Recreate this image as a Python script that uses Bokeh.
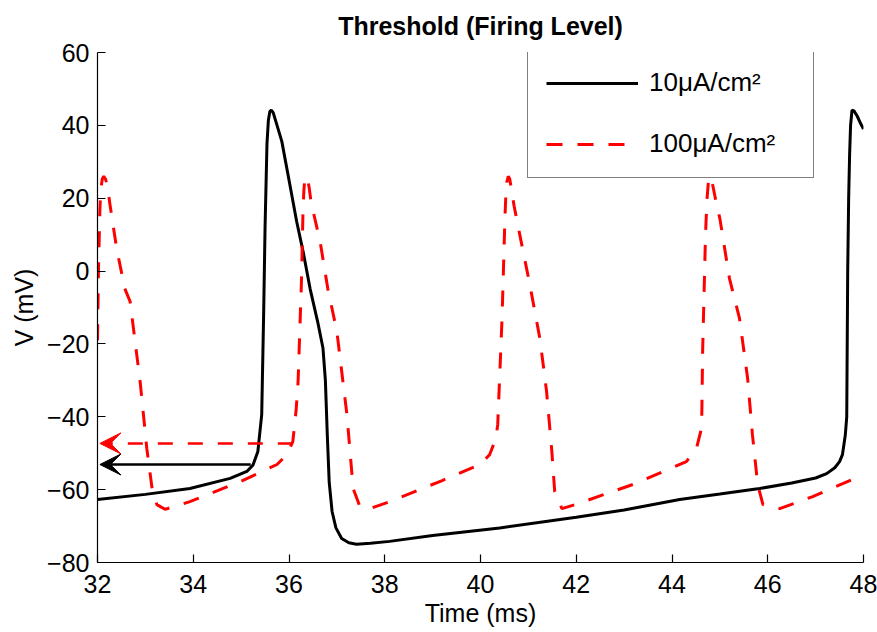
from bokeh.plotting import figure
from bokeh.models import Range1d, Arrow, VeeHead, FixedTicker
from bokeh.embed import file_html
from bokeh.resources import INLINE

# ---- data ----
t_10 = [32.0, 33.0, 33.93, 34.77, 35.12, 35.25, 35.35, 35.43, 35.47, 35.5, 35.54, 35.57,
        35.6, 35.63, 35.67, 35.75, 35.85, 36.0, 36.16, 36.3, 36.44, 36.6, 36.71, 36.76, 36.8,
        36.84, 36.9, 36.98, 37.1, 37.25, 37.41, 37.7, 38.1, 39.0, 40.4, 42.0, 43.0,
        44.16, 45.0, 45.83, 46.5, 47.0, 47.23, 47.4, 47.5, 47.56, 47.62, 47.65, 47.67,
        47.69, 47.71, 47.73, 47.76, 47.8, 47.87, 47.94, 48.0]
v_10 = [-62.7, -61.3, -59.7, -56.9, -55.0, -53.2, -49.5, -39.4, -12.0, 12.0, 35.0, 41.5,
        43.8, 44.2, 43.5, 40.0, 35.6, 25.0, 13.6, 5.0, -4.8, -14.0, -21.2, -30.0, -45.0,
        -58.0, -66.0, -70.5, -73.4, -74.6, -75.0, -74.7, -74.2, -72.6, -70.5, -67.6, -65.6,
        -62.7, -61.2, -59.7, -58.2, -56.8, -55.6, -54.0, -52.3, -50.4, -45.0, -40.0, 0.0,
        20.0, 32.0, 40.0, 44.2, 44.0, 42.5, 40.5, 39.0]

t_100 = [32.0, 32.02, 32.05, 32.07, 32.1, 32.13, 32.17, 32.21, 32.26, 32.4, 32.57, 32.68,
         32.89, 33.03, 33.14, 33.24, 33.41, 33.93, 34.98, 35.75, 35.95, 36.08, 36.15, 36.19,
         36.26, 36.29, 36.31, 36.33, 36.36, 36.39, 36.42, 36.46, 36.65, 36.81, 37.0, 37.21,
         37.34, 37.48, 37.69, 38.1, 39.2, 40.0, 40.19, 40.32, 40.36, 40.45, 40.51, 40.53,
         40.55, 40.58, 40.61, 40.64, 40.7, 40.82, 41.03, 41.24, 41.38, 41.49, 41.55, 41.7,
         42.0, 43.2, 44.3, 44.51, 44.6, 44.62, 44.64, 44.7, 44.73, 44.76, 44.79, 44.82,
         44.86, 44.92, 45.0, 45.2, 45.41, 45.58, 45.68, 45.79, 45.9, 46.25, 46.94, 47.77, 48.0]
v_100 = [-19.0, 0.0, 17.0, 22.5, 25.3, 26.0, 25.2, 23.0, 18.3, 6.2, -4.8, -8.3,
         -30.3, -48.7, -59.7, -64.1, -65.4, -63.3, -57.8, -53.1, -50.5, -46.8, -38.0, -30.3,
         -2.9, 15.0, 22.0, 25.3, 26.0, 25.2, 23.0, 19.0, 8.1, -4.8, -16.6, -39.4,
         -59.7, -64.6, -65.2, -63.3, -57.5, -53.0, -50.4, -46.0, -42.1, -13.0, 14.4, 21.0,
         24.5, 26.0, 25.3, 23.0, 18.0, 10.0, -3.7, -18.5, -33.0, -49.5, -60.5, -65.2,
         -64.0, -58.5, -52.3, -48.7, -44.0, -42.1, -22.0, 10.0, 19.5, 24.5, 26.0, 25.3,
         23.0, 19.0, 14.4, -2.0, -13.0, -29.5, -44.9, -58.6, -64.1, -65.2, -61.9, -57.2, -56.5]

# threshold arrows: start time, end time, voltage
arrow_10 = [35.2, 32.05, -53.1]
arrow_100 = [36.08, 32.05, -47.3]

x_ticks = [32, 34, 36, 38, 40, 42, 44, 46, 48]
y_ticks = [-80, -60, -40, -20, 0, 20, 40, 60]

FONT = "Liberation Sans"

p = figure(width=877, height=632, output_backend="svg", toolbar_location=None,
           x_range=Range1d(32, 48), y_range=Range1d(-80, 60),
           title="Threshold (Firing Level)",
           min_border_left=97, min_border_right=14, min_border_top=51, min_border_bottom=70)

p.outline_line_color = None
p.grid.visible = False
p.background_fill_color = "white"
p.border_fill_color = "white"

p.title.align = "center"
p.title.vertical_align = "top"
p.title.text_font = FONT
p.title.text_font_size = "25px"
p.title.text_font_style = "bold"
p.title.text_color = "black"
p.title.standoff = 22

for ax in (p.xaxis[0], p.yaxis[0]):
    ax.major_tick_in = 8
    ax.major_tick_out = 0
    ax.minor_tick_line_color = None
    ax.axis_line_color = "black"
    ax.axis_line_width = 1.2
    ax.major_tick_line_color = "black"
    ax.major_tick_line_width = 1.2
    ax.major_label_text_font = FONT
    ax.major_label_text_font_size = "25px"
    ax.major_label_text_color = "black"
    ax.axis_label_text_font = FONT
    ax.axis_label_text_font_size = "25px"
    ax.axis_label_text_font_style = "normal"
    ax.axis_label_text_color = "black"

p.xaxis.ticker = FixedTicker(ticks=x_ticks)
p.yaxis.ticker = FixedTicker(ticks=y_ticks)
p.xaxis.axis_label = "Time (ms)"
p.yaxis.axis_label = "V (mV)"
p.xaxis.major_label_standoff = 12
p.xaxis.axis_label_standoff = 3
p.yaxis.major_label_standoff = 8
p.yaxis.axis_label_standoff = 6
p.yaxis.major_label_overrides = {v: (("\u2212" + str(-v)) if v < 0 else str(v)) for v in y_ticks}

p.line(t_10, v_10, line_color="black", line_width=3, legend_label="10\u03bcA/cm\u00b2")
p.line(t_100, v_100, line_color="red", line_width=3, line_dash="16 15",
       legend_label="100\u03bcA/cm\u00b2")

p.add_layout(Arrow(end=VeeHead(size=21, fill_color="black", line_color="black", line_width=1),
                   x_start=arrow_10[0], x_end=arrow_10[1], y_start=arrow_10[2], y_end=arrow_10[2],
                   line_color="black", line_width=2.5))
p.add_layout(Arrow(end=VeeHead(size=21, fill_color="red", line_color="red", line_width=1),
                   x_start=arrow_100[0], x_end=arrow_100[1], y_start=arrow_100[2], y_end=arrow_100[2],
                   line_color="red", line_width=2.5, line_dash="15 15"))

lg = p.legend[0]
lg.location = (430, 384)
lg.margin = 0
lg.padding = 18
lg.spacing = 30
lg.glyph_width = 92
lg.glyph_height = 30
lg.label_height = 30
lg.label_width = 146
lg.label_standoff = 11
lg.label_text_font = FONT
lg.label_text_font_size = "26px"
lg.label_text_color = "black"
lg.border_line_color = "black"
lg.border_line_width = 1.5
lg.background_fill_color = "white"
lg.background_fill_alpha = 1.0

open("out.html", "w").write(file_html(p, INLINE))
